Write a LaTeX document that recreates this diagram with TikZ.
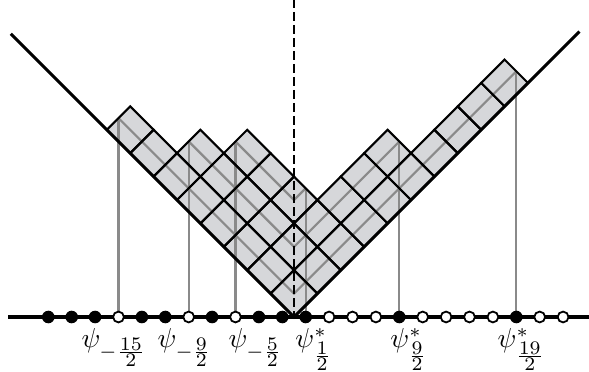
\documentclass[tikz,border=0pt]{standalone}
\definecolor{cellgray}{RGB}{214,215,218}
\definecolor{hookgray}{RGB}{138,138,138}
\tikzset{
  cellfill/.style={fill=cellgray, draw=none},
  celledge/.style={draw=black, line width=0.75pt},
  hookline/.style={draw=hookgray, line width=0.8pt},
  profile/.style={draw=black, line width=1.15pt, line join=miter},
  axisline/.style={draw=black, line width=1.15pt},
  midline/.style={draw=black, line width=0.75pt, dash pattern=on 3.25pt off 1.5pt},
  full/.style={circle, fill=black, inner sep=0pt, minimum size=4.6pt},
  empty/.style={circle, fill=white, draw=black, line width=0.65pt, inner sep=0pt, minimum size=3.95pt},
  lab/.style={anchor=base west, inner sep=0pt}
}
\newcommand{\hf}[2]{\frac{\scriptstyle #1}{\scriptstyle #2}}
\begin{document}
\begin{tikzpicture}[x=0.3cm,y=0.3cm]
\useasboundingbox (-12.564,-2.308) rectangle (12.607,13.547);
% cells of the partition (10,6,3,3,3,2,1,1)
\foreach \i/\n in {1/10,2/6,3/3,4/3,5/3,6/2,7/1,8/1}{
  \foreach \j in {1,...,\n}{
    \path[cellfill] ({\j-\i},{\i+\j-2}) -- ++(1,1) -- ++(-1,1) -- ++(-1,-1) -- cycle;
  }
}
% hook coordinates
\coordinate (a1) at (9.5,10.5);
\coordinate (a2) at (4.5,7.5);
\coordinate (a3) at (0.5,5.5);
\coordinate (b1) at (-7.5,8.5);
\coordinate (b2) at (-4.5,7.5);
\coordinate (b3) at (-2.5,7.5);
\coordinate (c1) at (0,1);
\coordinate (c2) at (0,3);
\coordinate (c3) at (0,5);
% Maya sites
\foreach \k in {1,...,23}{
  \coordinate (p\k) at ({\k-11.5},0);
}
\draw[hookline] (b1) -- (c1) -- (a1);
\draw[hookline] (b2) -- (c2) -- (a2);
\draw[hookline] (b3) -- (c3) -- (a3);
\draw[hookline] (p4) -- (b1);
\draw[hookline] (p7) -- (b2);
\draw[hookline] (p9) -- (b3);
\draw[hookline] (p12) -- (a3);
\draw[hookline] (p16) -- (a2);
\draw[hookline] (p21) -- (a1);
% cell edges
\foreach \i/\n in {1/10,2/6,3/3,4/3,5/3,6/2,7/1,8/1}{
  \foreach \j in {1,...,\n}{
    \draw[celledge] ({\j-\i},{\i+\j-2}) -- ++(1,1) -- ++(-1,1) -- ++(-1,-1) -- cycle;
  }
}
% profile boundary
\coordinate (pl) at (-12.1,12.1);
\coordinate (o) at (0,0);
\coordinate (pr) at (12.2,12.2);
\draw[profile] (pl) -- (o) -- (pr);
\coordinate (top) at (0,13.6);
\draw[midline] (top) -- (o);
% axis
\coordinate (axL) at (-12.22,0);
\coordinate (axR) at (12.8,0);
\draw[axisline] (axL) -- (axR);
\foreach \k/\t in {1/full,2/full,3/full,4/empty,5/full,6/full,7/empty,8/full,9/empty,10/full,11/full,12/full,13/empty,14/empty,15/empty,16/full,17/empty,18/empty,19/empty,20/empty,21/full,22/empty,23/empty}{
  \node[\t] (d\k) at (p\k) {};
}
% labels
\node[lab] (l1) at (-9.10,-1.30) {$\psi_{-\hf{15}{2}}$};
\node[lab] (l2) at (-5.85,-1.30) {$\psi_{-\hf{9}{2}}$};
\node[lab] (l3) at (-2.82,-1.30) {$\psi_{-\hf{5}{2}}$};
\node[lab] (l4) at (0.04,-1.30) {$\psi^{*}_{\hf{1}{2}}$};
\node[lab] (l5) at (4.10,-1.30) {$\psi^{*}_{\hf{9}{2}}$};
\node[lab] (l6) at (8.68,-1.30) {$\psi^{*}_{\hf{19}{2}}$};
\end{tikzpicture}
\end{document}
